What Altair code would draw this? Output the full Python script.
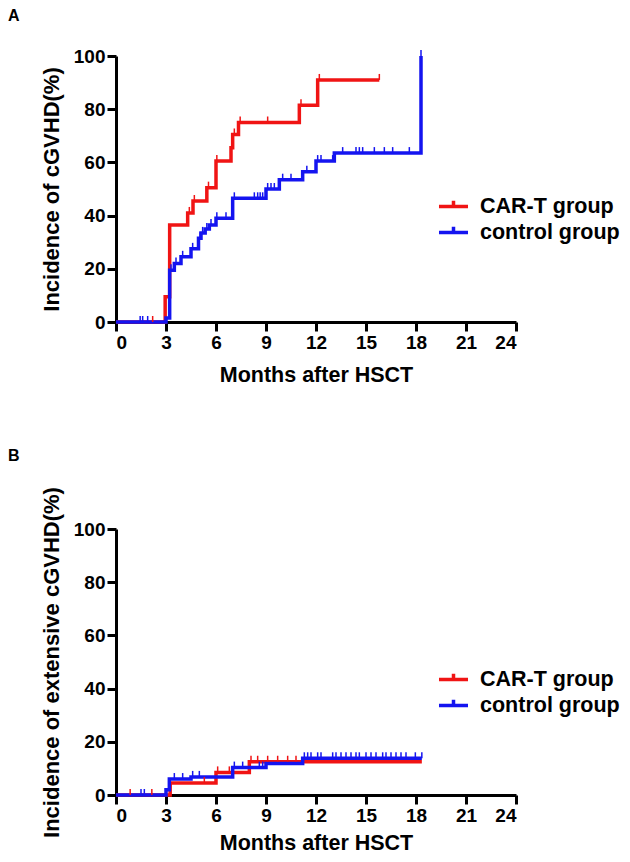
import altair as alt
import pandas as pd

GROUPS = ["CAR-T group", "control group"]
COLORS = ["#f01414", "#1414f0"]
X_TICKS = [0, 3, 6, 9, 12, 15, 18, 21, 24]
Y_TICKS = [0, 20, 40, 60, 80, 100]

# Panel A: incidence of cGVHD (step times / cumulative values / censor times)
A_CART_T = [0, 2.95, 3.22, 4.3, 4.62, 5.45, 6.0, 6.9, 7.0, 7.35, 11.0, 12.1, 15.8]
A_CART_V = [0, 9.5, 36.5, 41, 45.5, 50.5, 60.5, 65.5, 70.5, 75, 81.5, 91, 91]
A_CART_C = [2.2, 4.4, 4.7, 5.55, 6.05, 6.95, 7.1, 7.45, 9.1, 11.1, 12.2, 15.8]
A_CTRL_T = [0, 3.0, 3.22, 3.5, 3.9, 4.5, 4.95, 5.1, 5.35, 5.6, 6.0, 7.0, 9.0, 9.8, 11.2, 12.0, 13.1, 18.3]
A_CTRL_V = [0, 1.5, 19.5, 22, 24.5, 27.5, 31.5, 33.5, 35, 36.5, 39, 46.5, 50, 53.5, 56.5, 60.5, 63.5, 100]
A_CTRL_C = [1.45, 1.6, 1.9, 3.3, 3.6, 4.0, 4.6, 5.05, 5.2, 5.45, 5.7, 6.05, 6.6, 7.1, 8.3, 8.5, 8.65, 8.8,
            9.1, 9.3, 9.5, 10.0, 10.5, 11.45, 12.1, 12.3, 13.0, 13.6, 14.4, 14.6, 14.8, 15.5, 16.1,
            16.6, 17.6, 18.3]

# Panel B: incidence of extensive cGVHD
B_CART_T = [0, 3.25, 6.0, 8.0, 18.35]
B_CART_V = [0, 4.5, 8.5, 12.5, 12.5]
B_CART_C = [0.85, 2.15, 5.3, 6.1, 6.8, 8.1, 8.5, 9.1, 9.7, 10.3, 10.8]
B_CTRL_T = [0, 3.0, 3.2, 4.5, 7.0, 9.0, 11.2, 18.35]
B_CTRL_V = [0, 2, 6, 6.8, 10.3, 11.8, 13.8, 13.8]
B_CTRL_C = [1.5, 1.7, 3.5, 4.0, 4.6, 5.0, 7.1, 7.6, 8.6, 8.8, 11.3, 11.5, 11.7, 12.1, 12.3, 13.0,
            13.2, 13.5, 13.8, 14.1, 14.4, 14.6, 15.0, 15.3, 15.6, 16.0, 16.2, 16.5, 16.8, 17.1, 17.4,
            17.96, 18.35]

FONT = "Liberation Sans"


def step_value(times, values, t):
    v = values[0]
    for tt, vv in zip(times, values):
        if tt <= t + 1e-9:
            v = vv
    return v


def panel(letter, ytitle, cart, ctrl, xtitle_pad):
    rows, cens = [], []
    for g, (T, V, C) in zip(GROUPS, [cart, ctrl]):
        for t, v in zip(T, V):
            rows.append({"t": t, "v": v, "group": g})
        for c in C:
            cens.append({"t": c, "v": step_value(T, V, c), "group": g})
    ldf = pd.DataFrame(rows)
    cdf = pd.DataFrame(cens)

    x = alt.X("t:Q", scale=alt.Scale(domain=[0, 24], nice=False),
              axis=alt.Axis(values=X_TICKS, title="Months after HSCT", titlePadding=xtitle_pad))
    y = alt.Y("v:Q", scale=alt.Scale(domain=[0, 100], nice=False),
              axis=alt.Axis(values=Y_TICKS, title=ytitle))
    color = alt.Color("group:N", scale=alt.Scale(domain=GROUPS, range=COLORS),
                      legend=alt.Legend(title=None, orient="none", legendX=326, legendY=139,
                                        symbolType="M-1.5,0H1.5M0,0V-0.6", symbolSize=374,
                                        symbolStrokeWidth=3.5, symbolFillColor="transparent",
                                        labelFontSize=21.5, labelFontWeight="bold", labelFont=FONT,
                                        labelColor="black", labelOffset=15, rowPadding=2,
                                        padding=0))
    line = alt.Chart(ldf).mark_line(interpolate="step-after", strokeWidth=3.5).encode(
        x=x, y=y, color=color)
    pts = alt.Chart(cdf).mark_point(shape="M0,0V-1", size=144, strokeWidth=1.5,
                                    filled=False, opacity=1).encode(x=x, y=y, color=color)
    return alt.layer(line, pts).properties(
        width=400, height=266,
        title=alt.TitleParams(letter, anchor="start", frame="group", dx=-108, offset=23,
                              fontSize=16, fontWeight="bold", font=FONT, color="black"))


pa = panel("A", "Incidence of cGVHD(%)",
           (A_CART_T, A_CART_V, A_CART_C), (A_CTRL_T, A_CTRL_V, A_CTRL_C), 12)
pb = panel("B", "Incidence of extensive cGVHD(%)",
           (B_CART_T, B_CART_V, B_CART_C), (B_CTRL_T, B_CTRL_V, B_CTRL_C), 7)

chart = alt.vconcat(pa, pb, spacing=61).resolve_scale(color="independent").properties(
    padding={"left": 0, "top": 0, "right": 0, "bottom": 0}
).configure_view(stroke=None).configure_axis(
    grid=False, domainColor="black", domainWidth=3, tickColor="black", tickWidth=3,
    tickSize=9, labelFont=FONT, labelFontSize=19, labelFontWeight="bold", labelColor="black",
    labelPadding=2, titleFont=FONT, titleFontWeight="bold", titleColor="black",
).configure_axisX(titleFontSize=21.5).configure_axisY(
    titleFontSize=22, titlePadding=10)

chart.save("out.html", embed_options={"renderer": "svg", "actions": False})
